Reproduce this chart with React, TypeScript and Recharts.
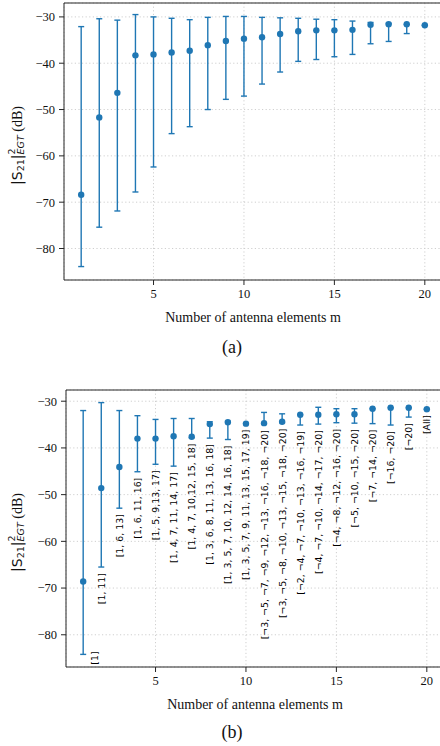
import React from 'react'
import { ComposedChart, Scatter, ErrorBar, XAxis, YAxis, CartesianGrid, ReferenceLine } from 'recharts'

// number of antenna elements m
const elements = [1, 2, 3, 4, 5, 6, 7, 8, 9, 10, 11, 12, 13, 14, 15, 16, 17, 18, 19, 20]

// (a) mean and spread over all subsets
const meanA = [-68.4, -51.7, -46.4, -38.3, -38.1, -37.7, -37.3, -36.1, -35.2, -34.7, -34.4, -33.7, -33.1, -32.9, -32.9, -32.8, -31.7, -31.6, -31.6, -31.8]
const upperA = [-32.1, -30.4, -30.7, -29.5, -30.0, -30.3, -30.6, -30.1, -29.9, -29.9, -30.1, -30.2, -30.3, -30.5, -30.6, -30.9, -31.2, -31.4, -31.6, -31.8]
const lowerA = [-83.9, -75.4, -71.9, -67.8, -62.4, -55.2, -53.7, -50.0, -47.8, -47.1, -44.5, -41.9, -39.6, -39.2, -38.6, -38.1, -35.8, -35.3, -33.6, -31.8]

// (b) selected subsets
const meanB = [-68.6, -48.6, -44.1, -38.0, -38.0, -37.5, -37.6, -34.9, -34.5, -34.8, -34.7, -34.4, -32.9, -32.9, -32.8, -32.8, -31.6, -31.4, -31.4, -31.7]
const upperB = [-32.0, -30.3, -32.0, -33.1, -33.9, -33.7, -33.7, -34.4, -34.3, -34.8, -32.4, -32.7, -32.9, -31.3, -31.6, -31.6, -31.6, -31.4, -31.4, -31.7]
const lowerB = [-84.2, -65.5, -52.9, -45.1, -43.5, -43.9, -37.8, -37.9, -38.2, -34.8, -34.9, -34.6, -35.1, -34.9, -34.6, -34.7, -34.8, -35.1, -33.4, -31.7]
const subsets = [
  '[1]',
  '[1, 11]',
  '[1, 6, 13]',
  '[1, 6, 11, 16]',
  '[1, 5, 9,13, 17]',
  '[1, 4, 7, 11, 14, 17]',
  '[1, 4, 7, 10,12, 15, 18]',
  '[1, 3, 6, 8, 11, 13, 16, 18]',
  '[1, 3, 5, 7, 10, 12, 14, 16, 18]',
  '[1, 3, 5, 7, 9, 11, 13, 15, 17, 19]',
  '[¬3, ¬5, ¬7, ¬9, ¬12, ¬13, ¬16, ¬18, ¬20]',
  '[¬3, ¬5, ¬8, ¬10, ¬13, ¬15, ¬18, ¬20]',
  '[¬2, ¬4, ¬7, ¬10, ¬13, ¬16, ¬19]',
  '[¬4, ¬7, ¬10, ¬14, ¬17, ¬20]',
  '[¬4, ¬8, ¬12, ¬16, ¬20]',
  '[¬5, ¬10, ¬15, ¬20]',
  '[¬7, ¬14, ¬20]',
  '[¬16, ¬20]',
  '[¬20]',
  '[All]',
]

const xTicks = [5, 10, 15, 20]
const yTicks = [-80, -70, -60, -50, -40, -30]

const BLUE = '#1f77b4'
const AXIS = '#262626'
const SERIF = "'Liberation Serif', 'Times New Roman', serif"
const SANS = "'DejaVu Sans', sans-serif"

const fmt = (v: number) => (v < 0 ? '\u2212' + Math.abs(v) : String(v))

const rows = (mean: number[], upper: number[], lower: number[], labels?: string[]) =>
  elements.map((m, i) => ({
    m,
    mean: mean[i],
    lower: lower[i],
    err: [mean[i] - lower[i], upper[i] - mean[i]],
    label: labels ? labels[i] : '',
  }))

const dataA = rows(meanA, upperA, lowerA)
const dataB = rows(meanB, upperB, lowerB, subsets)

const Dot = (p: any) => <circle cx={p.cx} cy={p.cy} r={3.2} fill={BLUE} />

const SubsetLabel = (p: any) => {
  if (p.cx == null || p.cy == null) return null
  const first = p.payload.m === 1
  const x = p.cx + (first ? 11 : 0)
  const y = p.cy + (first ? -3 : 6)
  return (
    <text
      x={x}
      y={y}
      transform={`rotate(-90 ${x} ${y})`}
      textAnchor="end"
      dominantBaseline="central"
      fontFamily={SANS}
      fontSize={9.4}
      fill="#000"
    >
      {p.payload.label}
    </text>
  )
}

const YLabel = ({ viewBox }: any) => {
  const cx = 17
  const cy = viewBox.y + viewBox.height / 2 + 4
  return (
    <text
      x={cx}
      y={cy}
      transform={`rotate(-90 ${cx} ${cy})`}
      textAnchor="middle"
      dominantBaseline="central"
      fontSize={14}
      fill="#111"
      fontFamily={SERIF}
    >
      <tspan fontFamily={SANS}>|S</tspan>
      <tspan fontFamily={SANS} fontSize={9.5} dy={3}>21</tspan>
      <tspan fontFamily={SANS} dy={-3}>|</tspan>
      <tspan fontFamily={SANS} fontSize={9.5} dy={-6}>2</tspan>
      <tspan fontFamily={SANS} fontSize={9.5} fontStyle="italic" dx={-6} dy={9}>EGT</tspan>
      <tspan dy={-3}> (dB)</tspan>
    </text>
  )
}

interface PanelProps {
  data: any[]
  width: number
  axisWidth: number
  yDomain: [number, number]
  labelled?: boolean
}

const Panel = ({ data, width, axisWidth, yDomain, labelled }: PanelProps) => (
  <ComposedChart width={width} height={330} data={data} margin={{ top: 3, right: 0, bottom: 0, left: 0 }}>
    <CartesianGrid stroke="#cfcfcf" strokeDasharray="1.2 2.4" />
    <XAxis
      type="number"
      dataKey="m"
      domain={[0.05, 20.95]}
      ticks={xTicks}
      height={50}
      allowDataOverflow
      stroke={AXIS}
      tickSize={5}
      tickMargin={4}
      tick={{ fill: '#111', fontSize: 12.5, fontFamily: SERIF }}
      label={{ value: 'Number of antenna elements m', position: 'insideBottom', offset: 8, fill: '#111', fontSize: 14, fontFamily: SERIF }}
    />
    <YAxis
      type="number"
      domain={yDomain}
      ticks={yTicks}
      width={axisWidth}
      allowDataOverflow
      stroke={AXIS}
      tickSize={5}
      tickMargin={4}
      tickFormatter={fmt}
      tick={{ fill: '#111', fontSize: 12.5, fontFamily: SERIF }}
      label={<YLabel />}
    />
    <ReferenceLine y={yDomain[1]} stroke={AXIS} strokeWidth={1.2} />
    <Scatter dataKey="mean" shape={Dot} isAnimationActive={false}>
      <ErrorBar dataKey="err" direction="y" width={3} stroke={BLUE} strokeWidth={1.4} />
    </Scatter>
    {labelled && <Scatter dataKey="lower" shape={SubsetLabel} isAnimationActive={false} />}
  </ComposedChart>
)

export default function App() {
  return (
    <div style={{ position: 'absolute', left: 0, top: 0, width: 440, height: 746, overflow: 'hidden', background: '#fff', fontFamily: SERIF }}>
      <div style={{ position: 'absolute', left: 0, top: 0 }}>
        <Panel data={dataA} width={442} axisWidth={64} yDomain={[-86.8, -27]} />
      </div>
      <div style={{ position: 'absolute', left: 207, top: 336, width: 50, height: 22, lineHeight: '22px', fontSize: 18, textAlign: 'center', color: '#111' }}>(a)</div>
      <div style={{ position: 'absolute', left: 0, top: 387 }}>
        <Panel data={dataB} width={444} axisWidth={66} yDomain={[-86.9, -27.6]} labelled />
      </div>
      <div style={{ position: 'absolute', left: 207, top: 721, width: 50, height: 22, lineHeight: '22px', fontSize: 18, textAlign: 'center', color: '#111' }}>(b)</div>
    </div>
  )
}
